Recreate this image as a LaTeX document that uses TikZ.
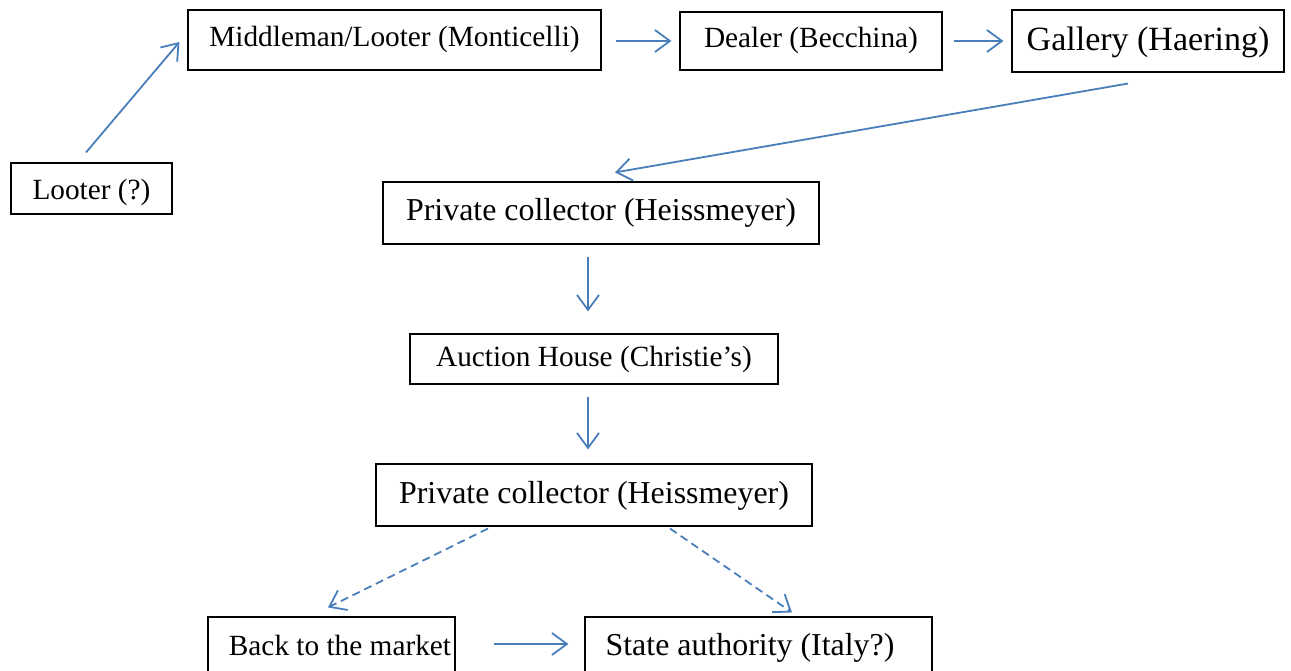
\documentclass[tikz,border=0pt]{standalone}
\usepackage{fontspec}
\setmainfont{Liberation Serif}
\usetikzlibrary{arrows.meta}
\definecolor{flowblue}{RGB}{74,126,187}
\tikzset{
  box/.style={draw, line width=1.1pt, inner sep=0pt, text height=22pt, text depth=8pt},
  flow/.style={draw=flowblue, line width=1.8pt, -{Straight Barb[length=15pt,width=22pt,line width=1.8pt]}},
  optional/.style={dash pattern=on 8pt off 5pt},
}
\newcommand{\smalltxt}{\fontsize{29.3}{34}\selectfont}
\newcommand{\midtxt}{\fontsize{31.9}{37}\selectfont}
\newcommand{\bigtxt}{\fontsize{34}{40}\selectfont}
\begin{document}
\begin{tikzpicture}[x=1pt,y=-1pt]
\clip (0,0) rectangle (1291,671);
\fill[white] (0,0) rectangle (1291,671);

% Top row
\node[box, font=\smalltxt, text height=31pt, minimum width=161, minimum height=51] (looter) at (91.5,188.5) {Looter (?)};
\node[box, font=\smalltxt, minimum width=413, minimum height=60] (middleman) at (394.5,40) {Middleman/Looter (Monticelli)};
\node[box, font=\smalltxt, minimum width=262, minimum height=58] (dealer) at (811,41) {Dealer (Becchina)};
\node[box, font=\bigtxt, text height=28pt, minimum width=272, minimum height=62] (gallery) at (1148,41) {Gallery (Haering)};

% Middle column
\node[box, font=\midtxt, text height=24pt, minimum width=436, minimum height=62] (collector1) at (601,213) {Private collector (Heissmeyer)};
\node[box, font=\smalltxt, minimum width=368, minimum height=50] (auction) at (594,359) {Auction House (Christie's)};
\node[box, font=\midtxt, text height=24pt, minimum width=436, minimum height=62] (collector2) at (594,495) {Private collector (Heissmeyer)};

% Bottom row
\node[box, font=\smalltxt, minimum width=247, minimum height=62] (market) at (331.5,648) {\hspace*{17pt}Back to the market};
\node[box, font=\midtxt, minimum width=347, minimum height=62] (state) at (758.5,648) {State authority (Italy?)\hspace*{17pt}};

% Arrows
\draw[flow] ([xshift=-5.5pt,yshift=10pt]looter.north) -- ([xshift=-8pt,yshift=-2pt]middleman.west);
\draw[flow, shorten <=14pt, shorten >=8pt] ([yshift=-1pt]middleman.east) -- (dealer.west);
\draw[flow, shorten <=11pt, shorten >=8pt] (dealer.east) -- (gallery.west);
\draw[flow] ([xshift=-20pt,yshift=-11pt]gallery.south) -- ([xshift=14pt,yshift=9pt]collector1.north);
\draw[flow, shorten <=12pt, shorten >=22pt] ([xshift=-13pt]collector1.south) -- ([xshift=-6pt]auction.north);
\draw[flow, shorten <=12pt, shorten >=14pt] ([xshift=-6pt]auction.south) -- ([xshift=-6pt]collector2.north);
\draw[flow, optional] ([xshift=-106pt,yshift=-2pt]collector2.south) -- ([xshift=-3.5pt,yshift=9pt]market.north);
\draw[flow, optional] ([xshift=76pt,yshift=-2pt]collector2.south) -- ([xshift=33.5pt,yshift=4pt]state.north);
\draw[flow, shorten <=38pt, shorten >=16pt] ([yshift=4pt]market.east) -- ([yshift=4pt]state.west);
\end{tikzpicture}
\end{document}
